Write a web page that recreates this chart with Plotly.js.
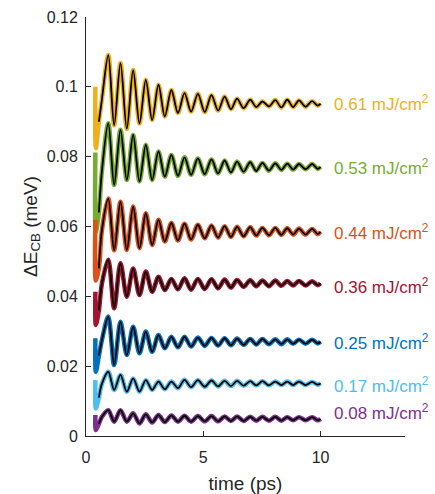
<!DOCTYPE html>
<html>
<head>
<meta charset="utf-8">
<script src="https://cdn.plot.ly/plotly-3.0.1.min.js"></script>
<style>html,body{margin:0;padding:0;background:#fff;}#chart{width:435px;height:494px;}</style>
</head>
<body>
<div id="chart"></div>
<script>
// time (ps) at start / extrema of the oscillations
const t = [0.40, 0.42, 0.55, 0.68, 0.95, 1.20, 1.47, 1.74, 2.01, 2.28, 2.55, 2.82, 3.09, 3.36, 3.64, 3.92, 4.20, 4.48, 4.77, 5.06, 5.35, 5.63, 5.91, 6.18, 6.44, 6.72, 7.00, 7.26, 7.52, 7.80, 8.07, 8.33, 8.58, 8.83, 9.08, 9.36, 9.64, 9.88, 10.0];

const f061 = [0.1000, 0.0824, 0.0900, 0.0965, 0.1091, 0.0890, 0.1068, 0.0880, 0.1048, 0.0895, 0.1020, 0.0905, 0.1006, 0.0915, 0.0991, 0.0925, 0.0982, 0.0929, 0.0980, 0.0928, 0.0976, 0.0932, 0.0972, 0.0936, 0.0966, 0.0939, 0.0963, 0.0942, 0.0958, 0.0944, 0.0962, 0.0941, 0.0963, 0.0942, 0.0961, 0.0943, 0.0959, 0.0946, 0.0952];
const f053 = [0.0812, 0.0585, 0.0640, 0.0760, 0.0896, 0.0719, 0.0877, 0.0733, 0.0862, 0.0729, 0.0834, 0.0733, 0.0815, 0.0743, 0.0805, 0.0745, 0.0798, 0.0748, 0.0795, 0.0750, 0.0792, 0.0752, 0.0789, 0.0755, 0.0786, 0.0757, 0.0784, 0.0759, 0.0782, 0.0760, 0.0781, 0.0762, 0.0780, 0.0763, 0.0779, 0.0764, 0.0779, 0.0765, 0.0771];
const f044 = [0.0619, 0.0445, 0.0480, 0.0590, 0.0680, 0.0532, 0.0671, 0.0533, 0.0657, 0.0538, 0.0638, 0.0547, 0.0619, 0.0557, 0.0610, 0.0560, 0.0608, 0.0563, 0.0605, 0.0566, 0.0603, 0.0568, 0.0601, 0.0570, 0.0599, 0.0572, 0.0598, 0.0574, 0.0596, 0.0575, 0.0596, 0.0576, 0.0595, 0.0577, 0.0594, 0.0577, 0.0593, 0.0578, 0.0585];
const f036 = [0.0413, 0.0318, 0.0360, 0.0437, 0.0505, 0.0366, 0.0495, 0.0399, 0.0480, 0.0404, 0.0471, 0.0413, 0.0456, 0.0418, 0.0450, 0.0420, 0.0452, 0.0419, 0.0450, 0.0421, 0.0449, 0.0423, 0.0448, 0.0425, 0.0447, 0.0427, 0.0446, 0.0429, 0.0445, 0.0429, 0.0445, 0.0430, 0.0444, 0.0431, 0.0444, 0.0431, 0.0443, 0.0432, 0.0437];
const f025 = [0.0280, 0.0184, 0.0230, 0.0275, 0.0342, 0.0203, 0.0327, 0.0232, 0.0313, 0.0237, 0.0299, 0.0241, 0.0289, 0.0251, 0.0284, 0.0254, 0.0284, 0.0256, 0.0282, 0.0258, 0.0281, 0.0259, 0.0280, 0.0260, 0.0279, 0.0261, 0.0278, 0.0262, 0.0278, 0.0263, 0.0277, 0.0263, 0.0277, 0.0264, 0.0276, 0.0264, 0.0276, 0.0265, 0.0270];
const f017 = [0.0160, 0.0079, 0.0110, 0.0150, 0.0184, 0.0132, 0.0175, 0.0127, 0.0165, 0.0127, 0.0160, 0.0132, 0.0156, 0.0134, 0.0156, 0.0137, 0.0161, 0.0140, 0.0160, 0.0141, 0.0159, 0.0142, 0.0158, 0.0143, 0.0158, 0.0144, 0.0157, 0.0145, 0.0157, 0.0145, 0.0156, 0.0146, 0.0156, 0.0146, 0.0156, 0.0146, 0.0155, 0.0147, 0.0151];
const f008 = [0.0060, 0.0017, 0.0035, 0.0055, 0.0074, 0.0041, 0.0074, 0.0041, 0.0065, 0.0036, 0.0062, 0.0039, 0.0060, 0.0040, 0.0059, 0.0041, 0.0058, 0.0041, 0.0057, 0.0042, 0.0057, 0.0042, 0.0056, 0.0043, 0.0056, 0.0043, 0.0055, 0.0044, 0.0055, 0.0044, 0.0055, 0.0044, 0.0054, 0.0045, 0.0054, 0.0045, 0.0054, 0.0045, 0.0049];

const series = [f061, f053, f044, f036, f025, f017, f008];
const fluences = ["0.61", "0.53", "0.44", "0.36", "0.25", "0.17", "0.08"];
const colors = ["#EDB120", "#77AC30", "#D95319", "#A2142F", "#0072BD", "#4DBEEE", "#7E2F8E"];
const labelY = [0.0953, 0.0771, 0.0585, 0.0430, 0.0270, 0.0146, 0.0069];
const xTicks = [0, 5, 10];
const yTicks = [0, 0.02, 0.04, 0.06, 0.08, 0.10, 0.12];
const yTickText = ["0", "0.02", "0.04", "0.06", "0.08", "0.1", "0.12"];

const FONT = "'Liberation Sans', Arial, Helvetica, sans-serif";
const FIT_START = 2;

const traces = [];
series.forEach((s, i) => {
  traces.push({x: t, y: s, mode: "lines", line: {color: colors[i], width: 4.5, shape: "spline", smoothing: 0.9}, hoverinfo: "skip"});
});
series.forEach((s, i) => {
  traces.push({x: t.slice(FIT_START), y: s.slice(FIT_START), mode: "lines", line: {color: "#000000", width: 1.8, shape: "spline", smoothing: 0.9}, hoverinfo: "skip"});
});

const annotations = fluences.map((f, i) => ({
  x: 10.5, y: labelY[i], xref: "x", yref: "y", xanchor: "left", yanchor: "middle",
  text: f + " mJ/cm<sup>2</sup>", showarrow: false,
  font: {family: FONT, size: 17, color: colors[i]}
}));

const layout = {
  width: 435, height: 494,
  margin: {l: 86, r: 30, t: 17, b: 58},
  paper_bgcolor: "#ffffff", plot_bgcolor: "#ffffff",
  showlegend: false,
  font: {family: FONT, color: "#262626"},
  xaxis: {
    range: [0, 13.6], tickvals: xTicks, ticktext: xTicks.map(String),
    ticks: "inside", ticklen: 5, tickcolor: "#262626", tickwidth: 1,
    showline: true, linecolor: "#262626", linewidth: 1,
    showgrid: false, zeroline: false, ticklabelstandoff: 7,
    tickfont: {family: FONT, size: 16, color: "#262626"},
    title: {text: "time (ps)", font: {family: FONT, size: 19, color: "#262626"}, standoff: 14}
  },
  yaxis: {
    range: [0, 0.12], tickvals: yTicks, ticktext: yTickText,
    ticks: "inside", ticklen: 5, tickcolor: "#262626", tickwidth: 1,
    showline: true, linecolor: "#262626", linewidth: 1,
    showgrid: false, zeroline: false, ticklabelstandoff: 4,
    tickfont: {family: FONT, size: 16, color: "#262626"},
    title: {text: "ΔE<sub>CB</sub> (meV)", font: {family: FONT, size: 19, color: "#262626"}, standoff: 4}
  },
  annotations: annotations
};

Plotly.newPlot("chart", traces, layout, {displayModeBar: false, staticPlot: true});
</script>
</body>
</html>
